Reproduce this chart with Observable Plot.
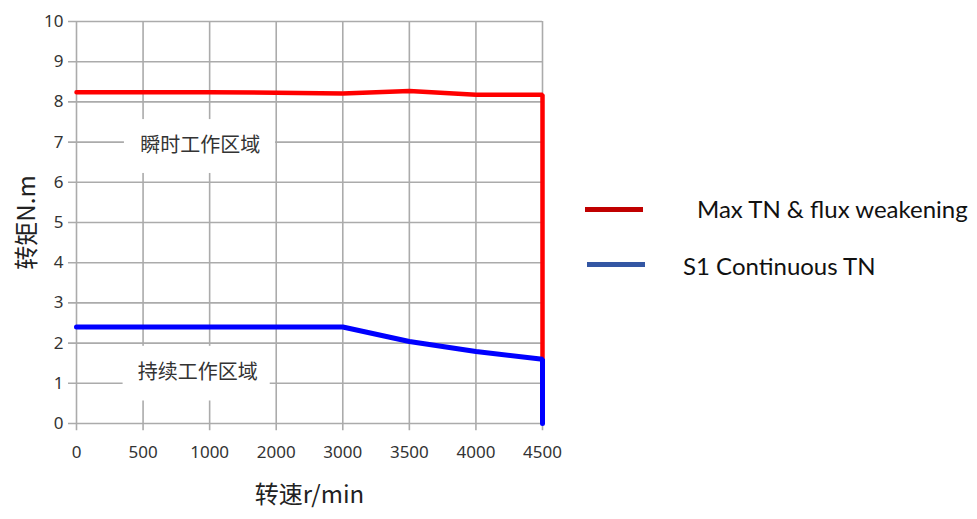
<!DOCTYPE html>
<html>
<head>
<meta charset="utf-8">
<script src="https://cdn.jsdelivr.net/npm/d3@7"></script>
<script src="https://cdn.jsdelivr.net/npm/@observablehq/plot@0.6"></script>
<style>
  html, body { margin: 0; padding: 0; background: #fff; }
  #wrap { position: relative; width: 977px; height: 519px; }
  #chart { position: absolute; left: 0; top: 0; }
  .leg { position: absolute; font-family: Lato, "Open Sans", sans-serif; font-size: 24px; color: #111; white-space: nowrap; line-height: 1; }
  .sw { position: absolute; height: 5px; }
</style>
</head>
<body>
<div id="wrap">
  <div id="chart"></div>
  <div class="sw" style="left:585px; top:207px; width:58px; background:#c00000;"></div>
  <div class="leg" style="left:697px; top:197px;">Max TN &amp; flux weakening</div>
  <div class="sw" style="left:587px; top:262px; width:58px; background:#3356a3;"></div>
  <div class="leg" style="left:683px; top:254px;">S1 Continuous TN</div>
</div>
<script>
// categories (speed, r/min) – equally spaced on the chart
const speedLabels = ["0", "500", "1000", "2000", "3000", "3500", "4000", "4500"];
// Max TN & flux weakening (N.m)
const maxTN = [8.24, 8.24, 8.24, 8.23, 8.21, 8.27, 8.18, 8.18];
// S1 Continuous TN (N.m)
const s1TN = [2.40, 2.40, 2.40, 2.40, 2.40, 2.04, 1.79, 1.60];
// vertical drop at the last speed
const maxTNDropTo = 1.60;
const s1DropTo = 0;
// y ticks
const torqueTicks = [0, 1, 2, 3, 4, 5, 6, 7, 8, 9, 10];
// zone annotations
const zoneLabels = ["瞬时工作区域", "持续工作区域"];
const zoneX = [1.86, 1.82];
const zoneY = [6.92, 1.26];
const zoneBoxX1 = [0.72, 0.70];
const zoneBoxX2 = [2.99, 2.91];
const zoneBoxY1 = [6.22, 0.56];
const zoneBoxY2 = [7.56, 1.92];

const idx = speedLabels.map((_, i) => i);
const last = speedLabels.length - 1;
const redData = idx.map(i => ({x: i, y: maxTN[i]})).concat([{x: last, y: maxTNDropTo}]);
const blueData = idx.map(i => ({x: i, y: s1TN[i]})).concat([{x: last, y: s1DropTo}]);
const zones = zoneLabels.map((t, i) => ({t, x: zoneX[i], y: zoneY[i], x1: zoneBoxX1[i], x2: zoneBoxX2[i], y1: zoneBoxY1[i], y2: zoneBoxY2[i]}));

const gridColor = "#ababab";
const tickFont = "'Noto Sans', sans-serif";

const chart = Plot.plot({
  width: 570,
  height: 519,
  marginLeft: 76,
  marginRight: 28,
  marginTop: 21,
  marginBottom: 96,
  style: {fontFamily: tickFont, fontSize: "16px", color: "#333", background: "#fff"},
  x: {domain: [0, last], ticks: idx, tickFormat: i => speedLabels[i]},
  y: {domain: [0, 10], ticks: torqueTicks},
  marks: [
    Plot.ruleY(torqueTicks, {y: d => d, x1: -0.12, x2: last, stroke: gridColor, strokeWidth: 1.6, clip: false}),
    Plot.ruleX(idx, {x: d => d, y1: -0.18, y2: 10, stroke: gridColor, strokeWidth: 1.6}),
    Plot.axisX({ticks: idx, tickFormat: i => speedLabels[i], tickSize: 0, tickPadding: 22, label: null, fontSize: 17, fill: "#333"}),
    Plot.axisY({ticks: torqueTicks, tickSize: 0, tickPadding: 13, label: null, fontSize: 17, fill: "#333"}),
    Plot.rect(zones, {x1: "x1", x2: "x2", y1: "y1", y2: "y2", fill: "#fff"}),
    Plot.text(zones, {x: "x", y: "y", text: "t", fontSize: 20, fill: "#333", fontFamily: "'Noto Sans CJK SC', sans-serif"}),
    Plot.line(redData, {x: "x", y: "y", stroke: "#ff0000", strokeWidth: 4.5, strokeLinejoin: "miter"}),
    Plot.line(blueData, {x: "x", y: "y", stroke: "#0000ff", strokeWidth: 5, strokeLinejoin: "miter"}),
    Plot.text(["转矩N.m"], {frameAnchor: "left", textAnchor: "middle", dx: -49, rotate: -90, fontSize: 24, fill: "#222", fontFamily: "'Noto Sans CJK SC', sans-serif"}),
    Plot.text(["转速r/min"], {frameAnchor: "bottom", dy: 79, fontSize: 24, fill: "#222", fontFamily: "'Noto Sans CJK SC', sans-serif"})
  ]
});
document.getElementById("chart").appendChild(chart);
</script>
</body>
</html>
